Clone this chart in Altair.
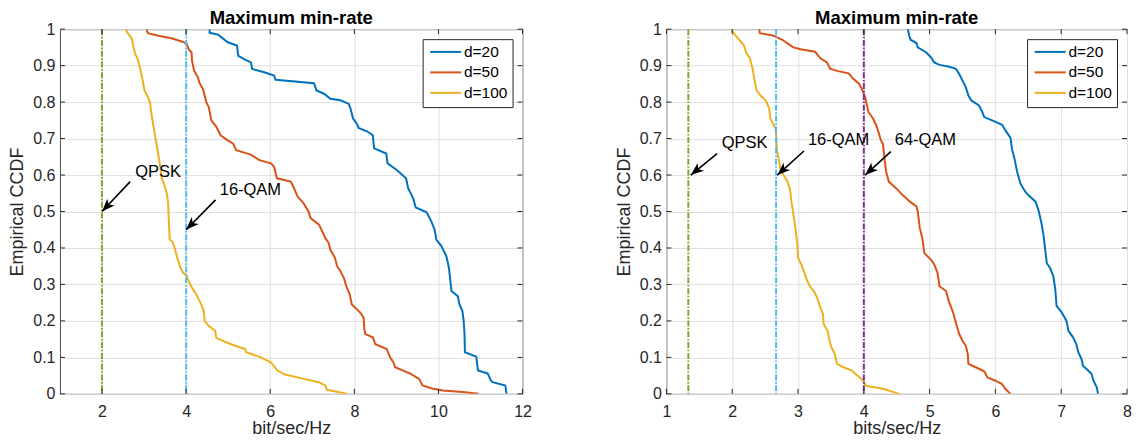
import math
import altair as alt
import pandas as pd

SERIES = ["d=20", "d=50", "d=100"]
COLORS = ["#0072BD", "#D95319", "#EDB120"]
TITLE = "Maximum min-rate"
Y_TITLE = "Empirical CCDF"

# ---------------- Left panel data ----------------
L20_x = [4.56,4.56,4.76,4.99,5.21,5.24,5.38,5.54,5.57,5.86,6.09,6.13,7.04,7.10,7.28,7.43,7.67,7.87,7.91,7.97,
         8.06,8.10,8.30,8.44,8.47,8.76,8.79,9.01,9.23,9.28,9.40,9.46,9.72,9.83,9.91,9.95,10.07,10.19,10.25,10.28,
         10.31,10.46,10.50,10.57,10.60,10.62,10.63,10.90,10.94,11.17,11.25,11.29,11.59,11.62]
L20_y = [1.0,.99,.985,.964,.955,.927,.918,.909,.891,.882,.873,.861,.852,.832,.823,.809,.805,.795,.782,.755,
         .741,.729,.72,.709,.673,.659,.632,.614,.591,.564,.536,.511,.498,.473,.45,.423,.405,.377,.345,.314,
         .282,.268,.245,.227,.2,.164,.114,.102,.064,.056,.036,.032,.023,0]
L50_x = [3.06,3.09,3.34,3.65,3.93,4.02,4.06,4.13,4.14,4.19,4.28,4.32,4.40,4.48,4.54,4.60,4.72,4.82,4.99,5.12,
         5.19,5.54,5.74,6.02,6.09,6.16,6.49,6.55,6.65,6.79,6.91,6.96,7.16,7.24,7.31,7.39,7.43,7.54,7.59,7.67,
         7.75,7.81,7.89,7.94,8.14,8.22,8.24,8.26,8.44,8.50,8.77,8.85,8.93,8.97,9.32,9.54,9.62,9.87,10.11,10.58,
         10.95]
L50_y = [1.0,.989,.982,.975,.965,.959,.945,.936,.914,.886,.868,.852,.836,.8,.786,.75,.732,.709,.695,.686,
         .668,.656,.641,.632,.623,.591,.582,.568,.541,.523,.5,.482,.464,.445,.427,.414,.395,.373,.35,.336,
         .318,.295,.273,.245,.223,.209,.177,.164,.155,.136,.123,.1,.086,.073,.056,.041,.023,.014,.009,.005,
         0]
L100_x = [2.57,2.59,2.71,2.75,2.79,2.85,2.91,2.96,3.01,3.09,3.14,3.18,3.22,3.26,3.32,3.38,3.42,3.47,3.54,3.57,
          3.59,3.61,3.67,3.73,3.80,3.87,3.93,4.02,4.06,4.14,4.22,4.30,4.36,4.42,4.44,4.54,4.69,4.72,5.07,5.40,
          5.43,5.78,5.86,6.02,6.17,6.35,6.80,7.15,7.31,7.35,7.83]
L100_y = [1.0,.993,.973,.95,.932,.918,.891,.864,.832,.814,.8,.764,.736,.709,.668,.627,.591,.577,.55,.527,
          .473,.423,.418,.4,.368,.345,.332,.323,.309,.291,.277,.259,.245,.227,.2,.186,.173,.153,.136,.123,
          .114,.1,.095,.086,.064,.053,.041,.032,.023,.011,0]
L_VLINES = [2.0, 4.0]
L_VCOLORS = ["#77AC30", "#4DBEEE"]
L_LABELS = ["QPSK", "16-QAM"]
L_TAIL_X = [2.67, 4.70]
L_TAIL_Y = [0.582, 0.532]
L_HEAD_X = [2.0, 4.0]
L_HEAD_Y = [0.50, 0.45]
L_TEXT_X = [2.79, 4.80]
L_TEXT_Y = [0.609, 0.558]
L_XTICKS = [2, 4, 6, 8, 10, 12]

# ---------------- Right panel data ----------------
R20_x = [4.67,4.69,4.71,4.80,4.82,4.95,5.02,5.07,5.15,5.30,5.40,5.45,5.50,5.55,5.59,5.63,5.75,5.80,5.83,5.95,
         6.10,6.15,6.23,6.25,6.29,6.33,6.38,6.45,6.51,6.61,6.66,6.70,6.73,6.76,6.78,6.83,6.88,6.91,6.93,7.01,
         7.08,7.11,7.18,7.23,7.26,7.31,7.33,7.41,7.46,7.49,7.54,7.56]
R20_y = [1.0,.982,.971,.962,.95,.936,.923,.909,.902,.897,.891,.877,.859,.841,.818,.805,.791,.773,.759,.75,
         .738,.723,.702,.673,.645,.609,.577,.555,.543,.527,.5,.468,.436,.391,.359,.345,.323,.286,.241,.223,
         .2,.173,.155,.136,.114,.095,.077,.064,.055,.036,.018,0]
R50_x = [2.41,2.42,2.63,2.76,2.89,2.93,3.04,3.26,3.34,3.44,3.49,3.61,3.77,3.84,3.93,3.98,4.02,4.07,4.14,4.19,
         4.23,4.26,4.29,4.32,4.34,4.38,4.49,4.59,4.70,4.80,4.82,4.85,4.89,4.92,5.02,5.07,5.12,5.15,5.25,5.29,
         5.35,5.40,5.45,5.50,5.55,5.58,5.59,5.70,5.83,5.88,6.00,6.10,6.15,6.23]
R50_y = [1.0,.989,.982,.971,.955,.95,.945,.938,.92,.909,.891,.885,.879,.864,.85,.832,.814,.773,.755,.736,
         .714,.695,.686,.636,.609,.582,.564,.545,.527,.514,.5,.455,.427,.386,.368,.355,.332,.295,.282,.255,
         .227,.195,.164,.145,.132,.109,.082,.073,.062,.045,.036,.027,.014,0]
R100_x = [2.0,2.01,2.08,2.18,2.21,2.27,2.31,2.34,2.37,2.43,2.51,2.56,2.58,2.63,2.66,2.67,2.68,2.71,2.73,2.78,
          2.84,2.88,2.90,2.93,2.96,2.99,3.00,3.05,3.09,3.13,3.18,3.24,3.29,3.34,3.38,3.39,3.45,3.48,3.51,3.56,
          3.59,3.69,3.82,3.87,3.94,3.99,4.03,4.09,4.29,4.54]
R100_y = [1.0,.991,.977,.955,.936,.92,.891,.859,.832,.818,.805,.784,.755,.738,.727,.7,.668,.641,.618,.6,
          .582,.559,.527,.491,.455,.409,.373,.355,.336,.314,.295,.282,.264,.236,.218,.191,.173,.145,.127,.109,
          .082,.073,.064,.055,.045,.036,.023,.02,.014,0]
R_VLINES = [4/3, 8/3, 4.0]
R_VCOLORS = ["#77AC30", "#4DBEEE", "#7E2F8E"]
R_LABELS = ["QPSK", "16-QAM", "64-QAM"]
R_TAIL_X = [1.77, 3.09, 4.41]
R_TAIL_Y = [0.659, 0.666, 0.664]
R_HEAD_X = [1.37, 2.685, 4.02]
R_HEAD_Y = [0.60, 0.60, 0.60]
R_TEXT_X = [1.84, 3.15, 4.47]
R_TEXT_Y = [0.688, 0.696, 0.696]
R_XTICKS = [1, 2, 3, 4, 5, 6, 7, 8]

Y_TICKS = [0, 0.1, 0.2, 0.3, 0.4, 0.5, 0.6, 0.7, 0.8, 0.9, 1.0]

FONT = "Liberation Sans"
TXT = "#262626"
H = 365
ARROW_PATH = "M0,0L-0.5,1.3L0,0.95L0.5,1.3Z"


def panel(xs, ys, xmin, xmax, xticks, xtitle, W, vlines, vcolors, labels,
          tx, ty, hx, hy, lx, ly):
    rows = []
    for name, sx, sy in zip(SERIES, xs, ys):
        for i, (a, b) in enumerate(zip(sx, sy)):
            rows.append({"x": a, "y": b, "d": name, "i": i})
    df = pd.DataFrame(rows)
    xscale = alt.Scale(domain=[xmin, xmax], nice=False, zero=False)
    yscale = alt.Scale(domain=[0, 1], nice=False)
    xaxis = alt.Axis(values=xticks, format="d", title=xtitle, grid=True,
                     labelFlush=False, labelOverlap=False)
    yaxis = alt.Axis(values=Y_TICKS, format=".1~f", title=Y_TITLE, grid=True,
                     labelFlush=False, labelOverlap=False)

    def X(f):
        return alt.X(f, scale=xscale, axis=xaxis)

    def Y(f):
        return alt.Y(f, scale=yscale, axis=yaxis)

    lines = alt.Chart(df).mark_line(strokeWidth=2, clip=True).encode(
        x=X("x:Q"),
        y=Y("y:Q"),
        color=alt.Color("d:N", scale=alt.Scale(domain=SERIES, range=COLORS),
                        sort=SERIES,
                        legend=alt.Legend(title=None, orient="top-right", offset=10,
                                          padding=5, strokeColor=TXT, fillColor="white",
                                          cornerRadius=0,
                                          symbolType="M-3,0L3,0", symbolSize=107,
                                          symbolStrokeWidth=2, symbolOffset=10.35,
                                          labelOffset=10.5, labelFontSize=15.5,
                                          labelFont=FONT, labelColor="black",
                                          rowPadding=3.5)),
        order=alt.Order("i:Q"),
    )

    layers = [lines]
    for v, c in zip(vlines, vcolors):
        layers.append(
            alt.Chart(pd.DataFrame({"x": [v]})).mark_rule(
                color=c, strokeWidth=2, strokeDash=[6, 1.6, 1.6, 1.6]
            ).encode(x=X("x:Q"))
        )

    ppx = W / (xmax - xmin)
    angles = []
    for a, b, c, d in zip(tx, ty, hx, hy):
        dx = (a - c) * ppx
        dy = -(b - d) * H
        phi = math.degrees(math.atan2(dx, -dy))
        angles.append((phi - 180) % 360)
    adf = pd.DataFrame({"tx": tx, "ty": ty, "hx": hx, "hy": hy, "a": angles,
                        "lx": lx, "ly": ly, "t": labels})
    layers.append(
        alt.Chart(adf).mark_rule(color="black", strokeWidth=1.6).encode(
            x=X("tx:Q"), y=Y("ty:Q"), x2="hx:Q", y2="hy:Q")
    )
    layers.append(
        alt.Chart(adf).mark_point(shape=ARROW_PATH, filled=True, color="black",
                                  opacity=1, size=400, strokeWidth=0).encode(
            x=X("hx:Q"), y=Y("hy:Q"), angle=alt.Angle("a:Q", scale=None))
    )
    layers.append(
        alt.Chart(adf).mark_text(align="left", baseline="middle", fontSize=16.5,
                                 font=FONT, color="black").encode(
            x=X("lx:Q"), y=Y("ly:Q"), text="t:N")
    )

    # inward tick marks on all four sides
    xt = pd.DataFrame({"v": xticks})
    yt = pd.DataFrame({"v": Y_TICKS})
    tk = dict(color=TXT, strokeWidth=1)
    layers.append(alt.Chart(xt).mark_rule(**tk).encode(
        x=X("v:Q"), y=alt.value(H), y2=alt.value(H - 5)))
    layers.append(alt.Chart(xt).mark_rule(**tk).encode(
        x=X("v:Q"), y=alt.value(0), y2=alt.value(5)))
    layers.append(alt.Chart(yt).mark_rule(**tk).encode(
        y=Y("v:Q"), x=alt.value(0), x2=alt.value(5)))
    layers.append(alt.Chart(yt).mark_rule(**tk).encode(
        y=Y("v:Q"), x=alt.value(W - 5), x2=alt.value(W)))

    return alt.layer(*layers).properties(
        width=W, height=H,
        title=alt.TitleParams(TITLE, fontSize=18.5, fontWeight="bold", font=FONT,
                              color="black", offset=-6, anchor="middle"),
    )


left = panel([L20_x, L50_x, L100_x], [L20_y, L50_y, L100_y], 1, 12, L_XTICKS,
             "bit/sec/Hz", 463, L_VLINES, L_VCOLORS, L_LABELS,
             L_TAIL_X, L_TAIL_Y, L_HEAD_X, L_HEAD_Y, L_TEXT_X, L_TEXT_Y)
right = panel([R20_x, R50_x, R100_x], [R20_y, R50_y, R100_y], 1, 8, R_XTICKS,
              "bits/sec/Hz", 461, R_VLINES, R_VCOLORS, R_LABELS,
              R_TAIL_X, R_TAIL_Y, R_HEAD_X, R_HEAD_Y, R_TEXT_X, R_TEXT_Y)

chart = alt.hconcat(left, right, spacing=82).resolve_legend(
    color="independent"
).properties(
    padding={"left": 0, "top": 0, "right": 0, "bottom": 0}
).configure_view(
    stroke="#4d4d4d", strokeWidth=1
).configure_axis(
    domain=False, ticks=False, tickSize=0,
    gridColor="#e0e0e0", gridWidth=1,
    labelFont=FONT, labelFontSize=16, labelColor=TXT,
    titleFont=FONT, titleFontSize=18, titleFontWeight="normal", titleColor=TXT,
).configure_axisX(
    labelPadding=10, titlePadding=0,
).configure_axisY(
    labelPadding=5, minExtent=28, maxExtent=28, titlePadding=5,
)

chart.save("out.html", embed_options={"renderer": "svg", "actions": False})
